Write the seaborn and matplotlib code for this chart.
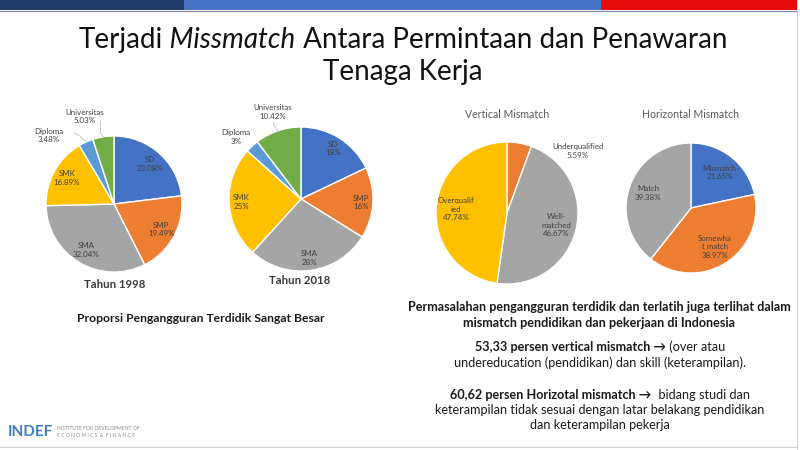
import matplotlib
matplotlib.use("Agg")
import matplotlib.pyplot as plt
from matplotlib.patches import Rectangle
from matplotlib.lines import Line2D
import numpy as np
import seaborn as sns

sns.set_theme(style="white")
plt.rcParams['font.family'] = ['Lato', 'DejaVu Sans']

# ---------------- data ----------------
edu_labels = ["SD", "SMP", "SMA", "SMK", "Diploma", "Universitas"]
share_1998 = [23.08, 19.49, 32.04, 16.89, 3.48, 5.03]
share_2018 = [18, 16, 28, 25, 3, 10.42]
pct_1998 = ["23.08%", "19.49%", "32.04%", "16.89%", "3.48%", "5.03%"]
pct_2018 = ["18%", "16%", "28%", "25%", "3%", "10.42%"]

vert_labels = ["Underqualified", "Well-\nmatched", "Overqualif\nied"]
vert_share = [5.59, 46.67, 47.74]
vert_pct = ["5.59%", "46.67%", "47.74%"]

horiz_labels = ["Mismatch", "Somewha\nt match", "Match"]
horiz_share = [21.65, 38.97, 39.38]
horiz_pct = ["21.65%", "38.97%", "39.38%"]

office = sns.color_palette(["#4472C4", "#ED7D31", "#A5A5A5", "#FFC000", "#5B9BD5", "#70AD47"])
edu_colors = office
vert_colors = [office[1], office[2], office[3]]
horiz_colors = [office[0], office[1], office[2]]

W, H = 800, 450
fig = plt.figure(figsize=(8, 4.5), dpi=100)
fig.patch.set_facecolor("white")
renderer = fig.canvas.get_renderer()


def fx(x):
    return x / W


def fy(y):
    return 1 - y / H


# ---------------- slide decorations ----------------
fig.patches.append(Rectangle((fx(0), fy(10)), fx(184), 10 / H, transform=fig.transFigure,
                             facecolor="#203864", edgecolor="none"))
fig.patches.append(Rectangle((fx(184), fy(10)), fx(601) - fx(184), 10 / H, transform=fig.transFigure,
                             facecolor="#4472C4", edgecolor="none"))
fig.patches.append(Rectangle((fx(601), fy(10)), fx(797) - fx(601), 10 / H, transform=fig.transFigure,
                             facecolor="#E60A0A", edgecolor="none"))
fig.lines.append(Line2D([fx(0), fx(797)], [fy(10.5), fy(10.5)], transform=fig.transFigure,
                        color="#7A7FA6", lw=0.8))
fig.lines.append(Line2D([fx(797), fx(797)], [fy(0), fy(450)], transform=fig.transFigure,
                        color="#D0D0D0", lw=0.8))
fig.lines.append(Line2D([fx(0), fx(797)], [fy(447), fy(447)], transform=fig.transFigure,
                        color="#D0D0D0", lw=0.8))


def rich_line(segments, cx, cy, size, color):
    texts, widths = [], []
    for s, wt, st in segments:
        t = fig.text(0, 0, s, fontsize=size, fontweight=wt, fontstyle=st,
                     color=color, va="center", ha="left")
        widths.append(t.get_window_extent(renderer).width)
        texts.append(t)
    x = cx - sum(widths) / 2
    for t, w in zip(texts, widths):
        t.set_position((fx(x), fy(cy)))
        x += w


# title
rich_line([("Terjadi", "normal", "normal"), (" Missmatch", "normal", "italic"),
           (" Antara Permintaan dan Penawaran", "normal", "normal")], 403, 40, 20, "#111111")
rich_line([("Tenaga Kerja", "normal", "normal")], 403, 72, 20, "#111111")


# ---------------- pies ----------------
def draw_pie(values, colors, cx, cy, r, names, pcts, inside_f, outside=None, leaders=None, size=5.7):
    pad = 1.6
    R = r * pad
    ax = fig.add_axes([fx(cx - R), fy(cy + R), 2 * R / W, 2 * R / H])
    wedges, _ = ax.pie(values, colors=colors, startangle=90, counterclock=False, radius=1,
                       wedgeprops=dict(edgecolor="white", linewidth=1.0))
    ax.set_xlim(-pad, pad)
    ax.set_ylim(-pad, pad)
    ax.set_aspect("equal")
    ax.axis("off")
    outside = outside or {}
    leaders = leaders or {}
    for i, w in enumerate(wedges):
        th = np.deg2rad((w.theta1 + w.theta2) / 2)
        label = f"{names[i]}\n{pcts[i]}"
        if i in outside:
            x, y = outside[i]
            ax.text(x, y, label, ha="center", va="center", fontsize=size, color="#404040",
                    linespacing=1.25, clip_on=False)
            if i in leaders:
                (x0, y0), (x1, y1) = leaders[i]
                ax.plot([x0, x1, np.cos(th) * 1.0], [y0, y1, np.sin(th) * 1.0],
                        color="#BFBFBF", lw=0.6, clip_on=False)
        else:
            ax.text(np.cos(th) * inside_f, np.sin(th) * inside_f, label, ha="center", va="center",
                    fontsize=size, color="#404040", linespacing=1.25)
    return ax


draw_pie(share_1998, edu_colors, 114, 204, 68, edu_labels, pct_1998, 0.79,
         outside={4: (-0.96, 1.01), 5: (-0.43, 1.29)},
         leaders={4: ((-0.6, 1.05), (-0.5, 1.0)), 5: ((-0.2, 1.22), (-0.2, 1.05))})
draw_pie(share_2018, edu_colors, 301, 199, 72, edu_labels, pct_2018, 0.83,
         outside={4: (-0.90, 0.86), 5: (-0.39, 1.21)},
         leaders={5: ((-0.38, 1.07), (-0.38, 1.03))})
draw_pie(vert_share, vert_colors, 507, 213, 71, vert_labels, vert_pct, 0.72,
         outside={0: (1.0, 0.87)})
draw_pie(horiz_share, horiz_colors, 691, 208, 65, horiz_labels, horiz_pct, 0.7)

fig.text(fx(507), fy(115), "Vertical Mismatch", ha="center", va="center", fontsize=7.6, color="#595959")
fig.text(fx(690), fy(115), "Horizontal Mismatch", ha="center", va="center", fontsize=7.6, color="#595959")

fig.text(fx(115), fy(284), "Tahun 1998", ha="center", va="center", fontsize=8.2, fontweight="bold", color="#3A3A3A")
fig.text(fx(300), fy(280), "Tahun 2018", ha="center", va="center", fontsize=8.2, fontweight="bold", color="#3A3A3A")
fig.text(fx(201), fy(319), "Proporsi Pengangguran Terdidik Sangat Besar", ha="center", va="center",
         fontsize=8.75, fontweight="bold", color="#1A1A1A")

# ---------------- right text block ----------------
body = "#1A1A1A"
bs = 9.1
rich_line([("Permasalahan pengangguran terdidik dan terlatih juga terlihat dalam", "bold", "normal")], 599, 307, bs, body)
rich_line([("mismatch pendidikan dan pekerjaan di Indonesia", "bold", "normal")], 599, 323, bs, body)
rich_line([("53,33 persen vertical mismatch \u2192", "bold", "normal"), (" (over atau", "normal", "normal")], 600, 347, bs, body)
rich_line([("undereducation (pendidikan) dan skill (keterampilan).", "normal", "normal")], 600, 363, bs, body)
rich_line([("60,62 persen Horizotal mismatch \u2192", "bold", "normal"), ("  bidang studi dan", "normal", "normal")], 600, 395, bs, body)
rich_line([("keterampilan tidak sesuai dengan latar belakang pendidikan", "normal", "normal")], 600, 410, bs, body)
rich_line([("dan keterampilan pekerja", "normal", "normal")], 600, 425, bs, body)

# ---------------- logo ----------------
fig.text(fx(8), fy(432), "INDEF", ha="left", va="center", fontsize=11, fontweight="bold", color="#3D7CC9")
fig.text(fx(57), fy(428.5), "INSTITUTE FOR DEVELOPMENT OF", ha="left", va="center", fontsize=3.6, color="#8A8A8A")
fig.text(fx(57), fy(435.5), "E C O N O M I C S  &  F I N A N C E", ha="left", va="center", fontsize=3.6, color="#8A8A8A")

fig.savefig("out.png", dpi=100, facecolor="white")
